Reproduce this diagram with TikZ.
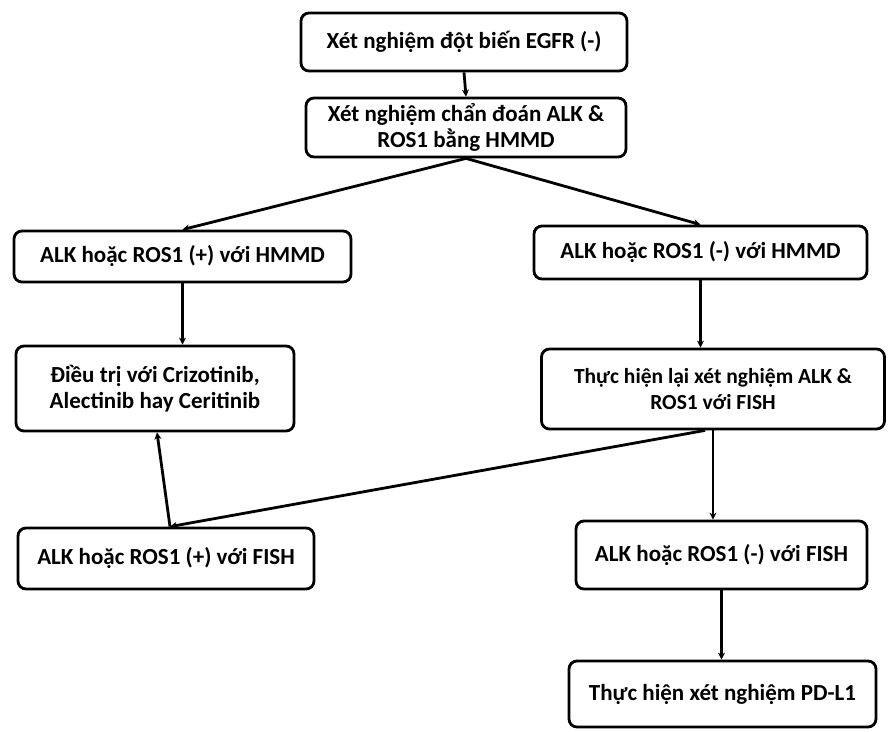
\documentclass[tikz,border=0pt]{standalone}
\usepackage{fontspec}
\setmainfont{Carlito}
\usetikzlibrary{arrows.meta}
\tikzset{
  box/.style={draw=black, line width=2.8pt, rounded corners=8pt, fill=white,
    align=center, inner sep=2pt, font=\bfseries\fontsize{23}{26}\selectfont},
  conn/.style={line width=2.8pt, -{Stealth[length=7pt,width=7pt]}}
}
\begin{document}
\begin{tikzpicture}[x=1pt,y=-1pt]
\useasboundingbox (0,0) rectangle (890,731);
\node[box, minimum width=326pt, minimum height=58pt] (top) at (464,42) {Xét nghiệm đột biến EGFR (-)};
\node[box, minimum width=320pt, minimum height=59pt] (hmmd) at (466,127.5) {Xét nghiệm chẩn đoán ALK \&\\ROS1 bằng HMMD};
\node[box, minimum width=337pt, minimum height=51pt] (lp) at (182.5,256.5) {ALK hoặc ROS1 (+) với HMMD};
\node[box, minimum width=333pt, minimum height=53pt] (rn) at (700.5,252.5) {ALK hoặc ROS1 (-) với HMMD};
\node[box, minimum width=278pt, minimum height=85pt] (tx) at (155,388.5) {Điều trị với Crizotinib,\\Alectinib hay Ceritinib};
\node[box, minimum width=343pt, minimum height=80pt, font=\bfseries\fontsize{21.5}{26}\selectfont] (fish) at (713,389) {Thực hiện lại xét nghiệm ALK \&\\ROS1 với FISH};
\node[box, minimum width=296pt, minimum height=61pt] (lf) at (166,558.5) {ALK hoặc ROS1 (+) với FISH};
\node[box, minimum width=291pt, minimum height=68pt] (rf) at (721.5,555) {ALK hoặc ROS1 (-) với FISH};
\node[box, minimum width=307pt, minimum height=66pt] (pd) at (722.5,694) {Thực hiện xét nghiệm PD-L1};

\draw[conn] (top.south) -- (hmmd.north);
\draw[conn] (hmmd.south) -- (lp.north);
\draw[conn] (hmmd.south) -- (rn.north);
\draw[conn] (lp.south) -- (lp.south |- tx.north);
\draw[conn] (rn.south) -- (rn.south |- fish.north);
\draw[conn] (fish.south) -- (fish.south |- rf.north);
\draw[conn] ([xshift=-8pt]fish.south) -- ([xshift=4pt]lf.north);
\draw[conn] ([xshift=4pt]lf.north) -- ([xshift=2pt]tx.south);
\draw[conn] (rf.south) -- (rf.south |- pd.north);
\end{tikzpicture}
\end{document}
